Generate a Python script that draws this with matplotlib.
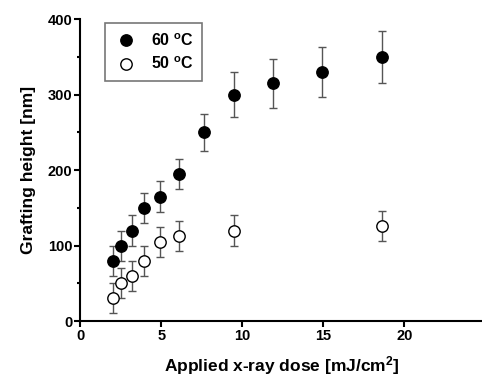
import matplotlib.pyplot as plt
from matplotlib.ticker import MultipleLocator
from matplotlib.lines import Line2D

plt.rcParams['font.family'] = ['Liberation Sans', 'DejaVu Sans']
plt.rcParams['font.weight'] = 'bold'
plt.rcParams['mathtext.fontset'] = 'custom'
plt.rcParams['mathtext.rm'] = 'Liberation Sans:bold'
plt.rcParams['mathtext.bf'] = 'Liberation Sans:bold'
plt.rcParams['mathtext.default'] = 'bf'

# data
dose_60 = [2.0, 2.5, 3.2, 3.9, 4.9, 6.1, 7.6, 9.5, 11.9, 14.9, 18.6]
height_60 = [80, 100, 120, 150, 165, 195, 250, 300, 315, 330, 350]
err_60 = [20, 20, 20, 20, 20, 20, 25, 30, 32, 33, 35]

dose_50 = [2.0, 2.5, 3.2, 3.9, 4.9, 6.1, 9.5, 18.6]
height_50 = [30, 50, 60, 80, 105, 113, 120, 126]
err_50 = [20, 20, 20, 20, 20, 20, 20, 20]

labels = ['60 $^{o}$C', '50 $^{o}$C']

fig = plt.figure(figsize=(4.82, 3.79), dpi=100)
ax = fig.add_axes([0.167, 0.153, 0.833, 0.796])

ax.errorbar(dose_60, height_60, yerr=err_60, fmt='o', color='black',
            markersize=8.2, markerfacecolor='black', markeredgecolor='black',
            ecolor='#555555', elinewidth=1.0, capsize=3, capthick=1.0)
ax.errorbar(dose_50, height_50, yerr=err_50, fmt='o', color='black',
            markersize=8.2, markerfacecolor='white', markeredgecolor='black',
            markeredgewidth=1.0, ecolor='#555555', elinewidth=1.0,
            capsize=3, capthick=1.0)

ax.set_xlim(0, 24.8)
ax.set_ylim(0, 400)
ax.xaxis.set_major_locator(MultipleLocator(5))
ax.yaxis.set_major_locator(MultipleLocator(100))
ax.yaxis.set_minor_locator(MultipleLocator(50))

for s in ['top', 'right']:
    ax.spines[s].set_visible(False)
for s in ['left', 'bottom']:
    ax.spines[s].set_linewidth(1.5)

ax.tick_params(axis='both', which='major', direction='out', length=4,
               width=1.5, labelsize=10.5, pad=2)
ax.tick_params(axis='y', which='minor', direction='out', length=2.5, width=1.5)

ax.set_xlabel('Applied x-ray dose [mJ/cm$^{2}$]', fontsize=12.5, fontweight='bold', labelpad=8)
ax.set_ylabel('Grafting height [nm]', fontsize=12.5, fontweight='bold', labelpad=8)

handles = [
    Line2D([], [], linestyle='none', marker='o', markersize=8.2,
           markerfacecolor='black', markeredgecolor='black'),
    Line2D([], [], linestyle='none', marker='o', markersize=8.2,
           markerfacecolor='white', markeredgecolor='black'),
]
leg = ax.legend(handles, labels, loc='upper left', bbox_to_anchor=(0.061, 0.987),
                fontsize=11.5, frameon=True, fancybox=False, handletextpad=0.8,
                borderpad=0.55, labelspacing=0.45, handlelength=1.5,
                borderaxespad=0)
leg.get_frame().set_edgecolor('#555555')
leg.get_frame().set_linewidth(1.2)
for t in leg.get_texts():
    t.set_fontweight('bold')

fig.savefig('out.png', dpi=100)
